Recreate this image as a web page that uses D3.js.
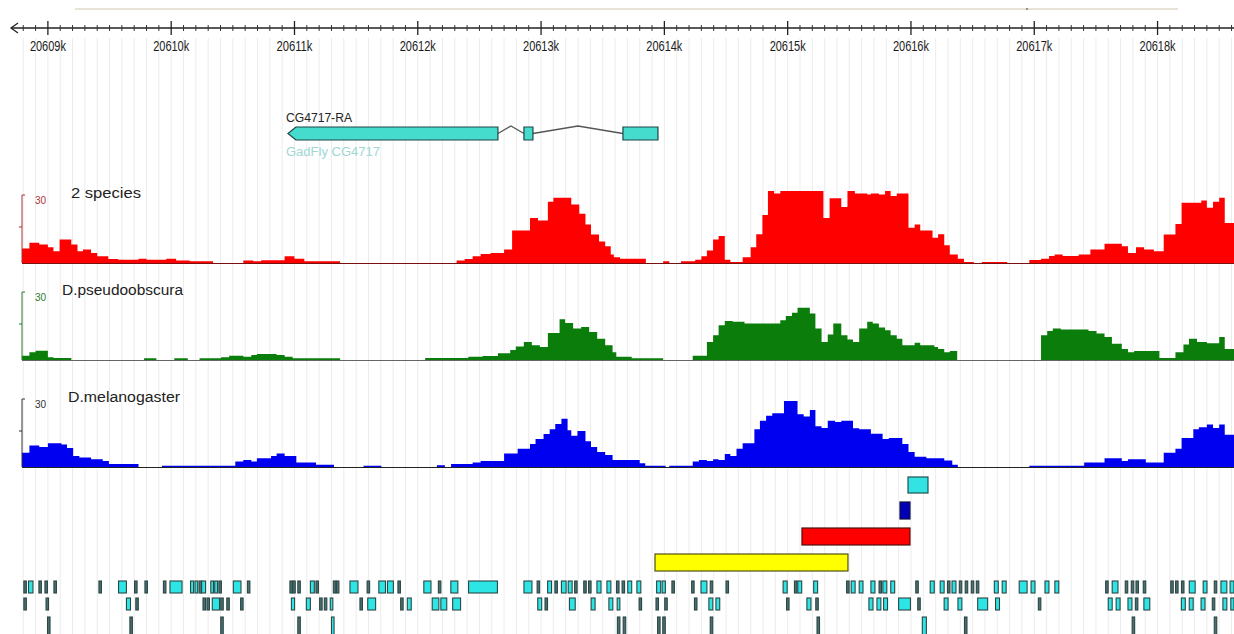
<!DOCTYPE html>
<html>
<head>
<meta charset="utf-8">
<script src="https://cdn.jsdelivr.net/npm/d3@7"></script>
<style>
  body { margin: 0; background: #fff; }
  text { font-family: 'Liberation Sans', Arial, sans-serif; }
</style>
</head>
<body>
<div id="chart"></div>
<script>
(function() {
const width = 1234,
      height = 634

// region shown (bp)
const viewStart = 20608790,
      viewEnd = 20618620
const rulerKb = [20609, 20610, 20611, 20612, 20613, 20614, 20615, 20616, 20617, 20618]

// wiggle tracks: [step start bp, score]
const trackNames = ['2 species', 'D.pseudoobscura', 'D.melanogaster']
const scoreMax = 30

const twoSpecies = [
  [20608790, 6], [20608850, 8.4], [20608930, 7.7], [20609000, 6.6], [20609045, 4.9], [20609095, 9.8],
  [20609190, 7.7], [20609240, 4.9], [20609285, 5.6], [20609350, 4.2], [20609400, 2.8], [20609490, 1.7],
  [20609570, 1.4], [20609735, 1.8], [20609800, 1.4], [20609960, 1.8], [20610040, 1], [20610150, 0.7],
  [20610340, 0], [20610585, 1], [20610665, 0.7], [20610730, 1.1], [20610920, 2.8], [20611000, 1.8],
  [20611080, 0.7], [20611370, 0], [20612315, 1], [20612380, 1.7], [20612445, 2.8], [20612510, 3.8],
  [20612590, 4.2], [20612700, 5.6], [20612765, 13.5], [20612910, 18.8], [20612975, 17.7], [20613055, 25.5],
  [20613100, 27.2], [20613245, 24.4], [20613310, 20.5], [20613360, 16], [20613405, 11.9], [20613470, 9],
  [20613520, 7], [20613565, 3.5], [20613590, 2.4], [20613640, 1.8], [20613850, 0], [20613990, 0.7],
  [20614040, 0], [20614135, 0.7], [20614250, 1.4], [20614300, 2.8], [20614345, 5.2], [20614395, 9.8],
  [20614440, 11.2], [20614490, 1.4], [20614535, 0.4], [20614635, 2.4], [20614700, 6.6], [20614745, 12],
  [20614795, 20], [20614840, 30], [20614890, 29], [20614940, 30], [20615290, 18.8], [20615340, 27],
  [20615435, 23.3], [20615485, 30], [20615545, 29], [20615645, 28.5], [20615675, 29], [20615740, 28.5],
  [20615790, 30], [20615835, 27.9], [20615885, 29], [20615980, 14.7], [20616030, 16], [20616075, 13.5],
  [20616175, 10.5], [20616220, 12], [20616270, 7.4], [20616315, 3.5], [20616380, 1.8], [20616430, 0.4],
  [20616510, 0], [20616575, 0.4], [20616780, 0], [20616960, 1.3], [20617055, 1.8], [20617120, 2.9],
  [20617165, 3.5], [20617230, 2.9], [20617360, 3.5], [20617455, 5.6], [20617570, 8], [20617710, 7],
  [20617760, 4.2], [20617825, 6.6], [20617890, 5.6], [20617970, 4.9], [20618050, 11.9], [20618145, 16.3],
  [20618195, 25.1], [20618355, 26], [20618400, 23], [20618450, 25.5], [20618500, 27.2], [20618545, 16.7]
]

const pseudoobscura = [
  [20608790, 1.8], [20608850, 3.2], [20608900, 3.9], [20609000, 1.1], [20609045, 0.8], [20609190, 0],
  [20609780, 0.7], [20609880, 0], [20610025, 0.7], [20610135, 0], [20610230, 0.7], [20610405, 1.1],
  [20610470, 1.8], [20610585, 1.4], [20610650, 2.1], [20610695, 2.5], [20610855, 2.1], [20610920, 1.4],
  [20610985, 0.7], [20611370, 0], [20612060, 0.8], [20612410, 1.4], [20612525, 1.7], [20612650, 2.8],
  [20612750, 4.2], [20612795, 5.6], [20612860, 7.5], [20612925, 6.1], [20612990, 5.4], [20613055, 11.3],
  [20613150, 17], [20613195, 15.4], [20613260, 13.1], [20613325, 13.8], [20613390, 11.7], [20613455, 8.9],
  [20613520, 6.1], [20613580, 3.2], [20613610, 1.4], [20613735, 0.7], [20613990, 0], [20614230, 1.8],
  [20614345, 7.5], [20614395, 10.3], [20614440, 14.5], [20614490, 16.3], [20614555, 15.9], [20614650, 15.2],
  [20614940, 16.6], [20614985, 18.3], [20615035, 19.7], [20615080, 21.8], [20615180, 19.4], [20615225, 13.1],
  [20615275, 7.5], [20615325, 10.6], [20615370, 15.2], [20615435, 10.3], [20615485, 8.5], [20615530, 7.5],
  [20615580, 13.1], [20615645, 15.9], [20615690, 15.2], [20615740, 13.5], [20615790, 12.4], [20615835, 10.3],
  [20615885, 8.9], [20615930, 6.1], [20616030, 7.2], [20616075, 6.1], [20616190, 5.4], [20616220, 4.6],
  [20616270, 3.2], [20616315, 3.7], [20616375, 0], [20617055, 10.3], [20617105, 12.1], [20617150, 13.1],
  [20617215, 12.7], [20617440, 12.1], [20617505, 11], [20617570, 9.6], [20617630, 6.8], [20617710, 4.6],
  [20617760, 3.2], [20617810, 3.7], [20618015, 0.8], [20618145, 3.2], [20618210, 6.5], [20618255, 8.9],
  [20618320, 7.5], [20618400, 7], [20618500, 9.6], [20618545, 4.6]
]

const melanogaster = [
  [20608790, 5.9], [20608850, 9], [20608930, 8.3], [20609000, 9.9], [20609110, 9.4], [20609155, 7.9],
  [20609205, 4.6], [20609255, 4], [20609350, 3.2], [20609445, 2.5], [20609495, 1.3], [20609735, 0],
  [20609925, 0.5], [20610520, 2.3], [20610585, 2.9], [20610650, 2.3], [20610695, 3.6], [20610810, 4.6],
  [20610855, 5.6], [20610920, 4.6], [20611015, 1.9], [20611175, 0.9], [20611320, 0], [20611560, 0.5],
  [20611705, 0], [20612155, 0.7], [20612220, 0], [20612270, 1.2], [20612445, 1.9], [20612510, 2.5],
  [20612700, 5.6], [20612810, 7.6], [20612910, 9.6], [20612955, 11.7], [20613020, 13.7], [20613070, 15.7],
  [20613115, 17.9], [20613165, 20.1], [20613215, 15.3], [20613245, 13], [20613295, 15], [20613360, 10.7],
  [20613405, 8.3], [20613455, 6.3], [20613520, 5], [20613580, 2.9], [20613800, 1.6], [20613845, 0.5],
  [20614010, 0], [20614040, 0.5], [20614230, 2.3], [20614280, 2.9], [20614345, 2.5], [20614395, 3.2],
  [20614440, 2.9], [20614490, 5.4], [20614535, 4.6], [20614585, 7.6], [20614635, 9.9], [20614730, 15.7],
  [20614775, 19.3], [20614825, 21.4], [20614875, 22.4], [20614970, 27.5], [20615080, 22], [20615130, 21],
  [20615180, 23.7], [20615225, 17], [20615275, 16.3], [20615325, 19.3], [20615385, 18.8], [20615435, 19.3],
  [20615530, 16.1], [20615580, 15.7], [20615675, 13.9], [20615770, 11.7], [20615820, 12.1], [20615930, 9.6],
  [20615980, 6.3], [20616030, 4.3], [20616125, 3.6], [20616270, 2.7], [20616335, 0.9], [20616380, 0],
  [20616960, 0.5], [20617405, 1.9], [20617570, 3.6], [20617710, 2.5], [20617760, 3.2], [20617905, 1.9],
  [20618050, 5.9], [20618145, 7.6], [20618195, 12.1], [20618290, 15.7], [20618335, 16.6], [20618400, 17.7],
  [20618450, 16.3], [20618500, 17.7], [20618545, 13.4]
]

// gene model (minus strand)
const geneName = 'CG4717-RA',
      geneSource = 'GadFly CG4717'
const exonStarts = [20610947, 20612861, 20613664]
const exonEnds = [20612650, 20612934, 20613948]

// single alignment hits stacked above the element rows
const hitStarts = [20615976, 20615911, 20615116, 20613924]
const hitEnds = [20616138, 20615992, 20615992, 20615489]

// conserved elements, three packed rows: [start, end]
const elementsRow1 = [
  [20608805, 20608815], [20608843, 20608879], [20608927, 20608937], [20608976, 20608986], [20609049, 20609059],
  [20609414, 20609424], [20609573, 20609637], [20609703, 20609713], [20609787, 20609797], [20609937, 20609947],
  [20609990, 20610088], [20610157, 20610182], [20610193, 20610215], [20610226, 20610236], [20610247, 20610279],
  [20610321, 20610343], [20610353, 20610376], [20610387, 20610397], [20610504, 20610566], [20610618, 20610628],
  [20610963, 20610973], [20610986, 20610996], [20611027, 20611037], [20611129, 20611161], [20611174, 20611190],
  [20611315, 20611325], [20611340, 20611350], [20611450, 20611515], [20611589, 20611599], [20611684, 20611738],
  [20611754, 20611802], [20611839, 20611849], [20612049, 20612107], [20612167, 20612177], [20612268, 20612325],
  [20612412, 20612646], [20612861, 20612926], [20612968, 20612978], [20613053, 20613085], [20613112, 20613122],
  [20613165, 20613203], [20613220, 20613252], [20613272, 20613282], [20613346, 20613356], [20613385, 20613395],
  [20613453, 20613486], [20613534, 20613566], [20613612, 20613622], [20613657, 20613667], [20613703, 20613735],
  [20613777, 20613809], [20613937, 20613970], [20613982, 20614008], [20614061, 20614071], [20614221, 20614231],
  [20614297, 20614345], [20614372, 20614382], [20614500, 20614510], [20614963, 20614996], [20615055, 20615065],
  [20615082, 20615114], [20615211, 20615243], [20615478, 20615488], [20615515, 20615547], [20615580, 20615611],
  [20615675, 20615708], [20615741, 20615751], [20615772, 20615804], [20615836, 20615868], [20616039, 20616049],
  [20616156, 20616189], [20616237, 20616269], [20616296, 20616306], [20616333, 20616365], [20616392, 20616402],
  [20616440, 20616450], [20616489, 20616499], [20616530, 20616540], [20616676, 20616708], [20616740, 20616772],
  [20616878, 20616942], [20616974, 20617006], [20617087, 20617119], [20617167, 20617199], [20617579, 20617589],
  [20617632, 20617679], [20617738, 20617748], [20617787, 20617797], [20617825, 20617835], [20617884, 20617894],
  [20618107, 20618117], [20618146, 20618156], [20618194, 20618204], [20618257, 20618305], [20618370, 20618401],
  [20618460, 20618470], [20618514, 20618562], [20618588, 20618620]
]
const elementsRow2 = [
  [20608805, 20608815], [20608985, 20608995], [20609637, 20609670], [20609713, 20609723], [20610258, 20610268],
  [20610290, 20610300], [20610333, 20610392], [20610402, 20610412], [20610451, 20610461], [20610563, 20610573],
  [20610975, 20611001], [20611096, 20611129], [20611204, 20611214], [20611242, 20611252], [20611290, 20611311],
  [20611531, 20611541], [20611594, 20611658], [20611861, 20611871], [20611915, 20611947], [20612117, 20612171],
  [20612187, 20612235], [20612283, 20612347], [20612973, 20613005], [20613032, 20613042], [20613230, 20613277],
  [20613406, 20613438], [20613550, 20613582], [20613617, 20613639], [20613795, 20613805], [20613932, 20613942],
  [20614003, 20614013], [20614244, 20614254], [20614361, 20614393], [20614418, 20614449], [20614991, 20615001],
  [20615156, 20615189], [20615228, 20615238], [20615659, 20615692], [20615724, 20615756], [20615778, 20615810],
  [20615900, 20615996], [20616055, 20616065], [20616269, 20616301], [20616381, 20616413], [20616541, 20616622],
  [20616686, 20616718], [20617033, 20617043], [20617600, 20617632], [20617664, 20617696], [20617760, 20617792],
  [20617820, 20617830], [20617889, 20617937], [20618193, 20618225], [20618257, 20618289], [20618353, 20618385],
  [20618444, 20618454], [20618530, 20618562], [20618594, 20618620]
]
const elementsRow3 = [
  [20608997, 20609007], [20609665, 20609675], [20610402, 20610412], [20611027, 20611037], [20611300, 20611321],
  [20613619, 20613629], [20613666, 20613676], [20613945, 20613955], [20613987, 20613997], [20614372, 20614382],
  [20615238, 20615248], [20616092, 20616125], [20616434, 20616444], [20617794, 20617804], [20618460, 20618470]
]

const svg = d3.select('#chart')
  .append('svg')
  .attr('width', width)
  .attr('height', height)
  .style('display', 'block')

const x = d3.scaleLinear()
  .domain([viewStart, viewEnd])
  .range([22, 1234])

// faint grid every 100 bp
svg.append('g')
  .selectAll('line')
  .data(d3.range(20608800, viewEnd, 100))
  .enter().append('line')
  .attr('x1', d => x(d)).attr('x2', d => x(d))
  .attr('y1', 38).attr('y2', height)
  .attr('stroke', '#ececec')
  .attr('stroke-width', 1)

// overview strip at the very top
svg.append('line')
  .attr('x1', 75).attr('x2', 1178)
  .attr('y1', 9).attr('y2', 9)
  .attr('stroke', '#e9e2d6')
  .attr('stroke-width', 2)
svg.append('circle')
  .attr('cx', 1027).attr('cy', 9).attr('r', 1)
  .attr('fill', '#777')

// ruler
const ruler = svg.append('g')
ruler.append('line')
  .attr('x1', 11).attr('x2', width)
  .attr('y1', 28).attr('y2', 28)
  .attr('stroke', '#222').attr('stroke-width', 1.5)
ruler.append('path')
  .attr('d', 'M18,23 L11,28 L18,33')
  .attr('fill', 'none').attr('stroke', '#222').attr('stroke-width', 1.3)
ruler.selectAll('.minor')
  .data(d3.range(20608800, viewEnd, 100).filter(d => d % 1000 !== 0))
  .enter().append('line')
  .attr('class', 'minor')
  .attr('x1', d => x(d)).attr('x2', d => x(d))
  .attr('y1', 25).attr('y2', 31)
  .attr('stroke', '#333').attr('stroke-width', 1)
ruler.selectAll('.major')
  .data(rulerKb)
  .enter().append('line')
  .attr('class', 'major')
  .attr('x1', d => x(d * 1000)).attr('x2', d => x(d * 1000))
  .attr('y1', 21).attr('y2', 35)
  .attr('stroke', '#222').attr('stroke-width', 1.3)
ruler.selectAll('.lbl')
  .data(rulerKb)
  .enter().append('text')
  .attr('class', 'lbl')
  .attr('x', d => x(d * 1000) - 18)
  .attr('y', 51)
  .attr('textLength', 36)
  .attr('lengthAdjust', 'spacingAndGlyphs')
  .attr('font-size', 15)
  .attr('fill', '#1a1a1a')
  .text(d => d + 'k')

// gene
const gene = svg.append('g')
const gTop = 127, gBot = 140, gMid = (gTop + gBot) / 2
gene.append('text')
  .attr('x', 286).attr('y', 122)
  .attr('textLength', 66).attr('lengthAdjust', 'spacingAndGlyphs')
  .attr('font-size', 12).attr('fill', '#222')
  .text(geneName)
gene.append('text')
  .attr('x', 286).attr('y', 156)
  .attr('textLength', 94).attr('lengthAdjust', 'spacingAndGlyphs')
  .attr('font-size', 12).attr('fill', '#9ed8d4')
  .text(geneSource)
// introns as hats
exonEnds.slice(0, -1).forEach(function(e, i) {
  const a = x(e), b = x(exonStarts[i + 1]), m = (a + b) / 2
  gene.append('path')
    .attr('d', 'M' + a + ',' + gMid + ' L' + m + ',' + (gTop - 1) + ' L' + b + ',' + gMid)
    .attr('fill', 'none').attr('stroke', '#555').attr('stroke-width', 1.3)
})
exonStarts.forEach(function(s, i) {
  const a = x(s), b = x(exonEnds[i])
  let d
  if (i === 0) {
    d = 'M' + a + ',' + gMid + ' L' + (a + 8) + ',' + gTop + ' L' + b + ',' + gTop +
        ' L' + b + ',' + gBot + ' L' + (a + 8) + ',' + gBot + ' Z'
  } else {
    d = 'M' + a + ',' + gTop + ' H' + b + ' V' + gBot + ' H' + a + ' Z'
  }
  gene.append('path')
    .attr('d', d)
    .attr('fill', '#45dccd')
    .attr('stroke', '#1f4545').attr('stroke-width', 1.2)
})

// wiggle tracks
const trackData = [twoSpecies, pseudoobscura, melanogaster]
const baselines = [263, 360, 467]
const trackH = 72
const fills = ['#ff0000', '#0b7d0b', '#0000f0']
const axisColors = ['#a33', '#2a7a2a', '#333']
const baseColors = ['#7a1010', '#666', '#222']
const nameX = [71, 62, 68], nameW = [70, 121, 112]

trackData.forEach(function(steps, i) {
  const base = baselines[i]
  const y = d3.scaleLinear()
    .domain([0, scoreMax])
    .range([base, base - trackH])
    .clamp(true)
  const pts = steps.concat([[viewEnd, steps[steps.length - 1][1]]])
  const area = d3.area()
    .curve(d3.curveStepAfter)
    .x(d => x(d[0]))
    .y0(base)
    .y1(d => y(d[1]))
  const g = svg.append('g')
  g.append('path')
    .datum(pts)
    .attr('d', area)
    .attr('fill', fills[i])
  g.append('line')
    .attr('x1', 22).attr('x2', width)
    .attr('y1', base + 0.5).attr('y2', base + 0.5)
    .attr('stroke', baseColors[i]).attr('stroke-width', 1)
  // axis bracket
  const top = y(scoreMax) + 4
  g.append('path')
    .attr('d', 'M25,' + top + ' H22 V' + base)
    .attr('fill', 'none').attr('stroke', axisColors[i]).attr('stroke-width', 1)
  g.append('line')
    .attr('x1', 19).attr('x2', 22)
    .attr('y1', y(scoreMax / 2)).attr('y2', y(scoreMax / 2))
    .attr('stroke', axisColors[i])
  g.append('text')
    .attr('x', 35).attr('y', top + 9)
    .attr('font-size', 10)
    .attr('fill', axisColors[i])
    .text(scoreMax)
  g.append('text')
    .attr('x', nameX[i]).attr('y', top + 3)
    .attr('textLength', nameW[i]).attr('lengthAdjust', 'spacingAndGlyphs')
    .attr('font-size', 14)
    .attr('fill', '#222')
    .text(trackNames[i])
})

// stacked hits
const hitY = [477, 502, 528, 554], hitH = [16, 17, 17, 17]
const hitFill = ['#33e3e3', '#0000b8', '#ff0000', '#ffff00']
const hitStroke = ['#1e5050', '#101040', '#501010', '#505010']
hitStarts.forEach(function(s, i) {
  svg.append('rect')
    .attr('x', x(s)).attr('y', hitY[i])
    .attr('width', x(hitEnds[i]) - x(s)).attr('height', hitH[i])
    .attr('fill', hitFill[i])
    .attr('stroke', hitStroke[i]).attr('stroke-width', 1.2)
})

// element rows; very short elements render as dark ticks
const rows = [elementsRow1, elementsRow2, elementsRow3]
const rowY = [581, 598, 617], rowH = [12, 12, 18]
rows.forEach(function(row, r) {
  svg.append('g')
    .selectAll('rect')
    .data(row)
    .enter().append('rect')
    .attr('x', d => x(d[0]))
    .attr('y', rowY[r])
    .attr('width', d => Math.max(2.5, x(d[1]) - x(d[0])))
    .attr('height', rowH[r])
    .attr('fill', d => x(d[1]) - x(d[0]) < 2.5 ? '#4a7070' : '#2ee5e5')
    .attr('stroke', '#2c4646')
    .attr('stroke-width', 1.1)
})

})()
</script>
</body>
</html>
